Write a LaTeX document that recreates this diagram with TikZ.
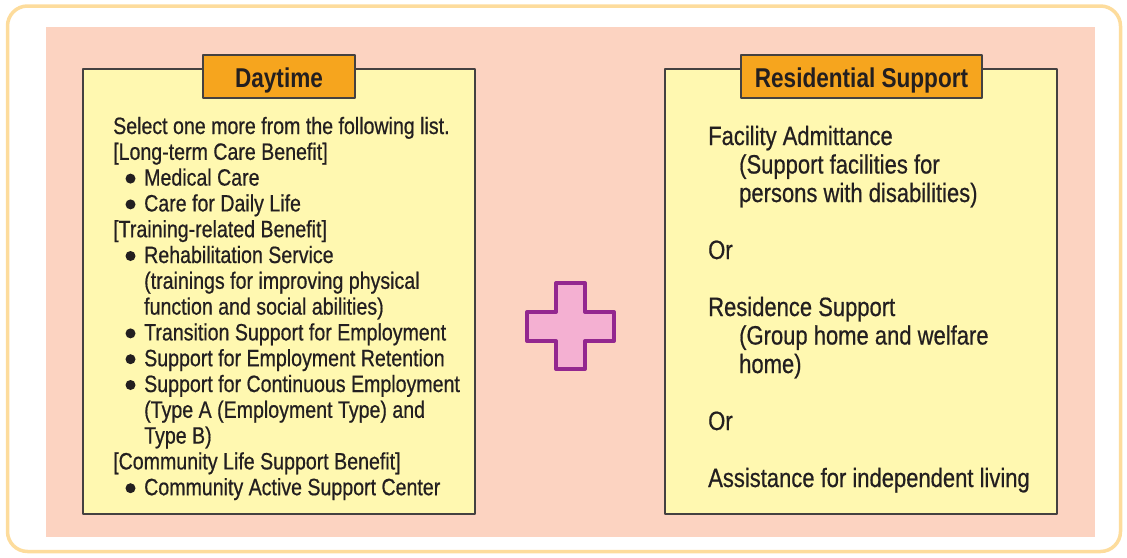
\documentclass[tikz,border=0pt]{standalone}
\usepackage{fontspec}
\setmainfont{Liberation Sans}[FakeStretch=0.83,UprightFeatures={FakeBold=0.6}]
\usetikzlibrary{calc}
\definecolor{frameorange}{HTML}{FDDC9C}
\definecolor{salmon}{HTML}{FCD3C1}
\definecolor{paleyellow}{HTML}{FFF8B0}
\definecolor{taborange}{HTML}{F6A51E}
\definecolor{inkgray}{HTML}{231F20}
\definecolor{plusfill}{HTML}{F4B0D2}
\definecolor{plusline}{HTML}{93278F}
\tikzset{panel/.style={draw=inkgray!85,line width=1.2pt,fill=paleyellow,minimum width=392pt,minimum height=445pt,inner sep=0}}
\tikzset{tab/.style={draw=inkgray!85,line width=1.2pt,fill=taborange,minimum height=43pt,inner sep=0,text height=21pt,text depth=0pt,text=inkgray,font=\bfseries\fontsize{27.2}{30}\selectfont}}
\tikzset{daytxt/.style={anchor=base west,inner sep=0,text=inkgray,font=\fontsize{23.6}{25.8}\selectfont}}
\tikzset{restxt/.style={anchor=base west,inner sep=0,text=inkgray,font=\fontsize{26.5}{28.5}\selectfont}}
\tikzset{dot/.style={circle,fill=inkgray,inner sep=0,minimum size=10pt}}

\begin{document}
\begin{tikzpicture}[x=1pt,y=-1pt,line join=round]
            \useasboundingbox (0,0) rectangle (1127,557);
            % frame and background
            \draw[frameorange,line width=3.5pt,rounded corners=20pt,fill=white](7.5,6) rectangle (1120.5,551.5);
            \fill[salmon](46,27) rectangle (1095,537);
            % the two panels
            \node[panel] (day) at (279,291.5) {};
            \node[tab,minimum width=152pt] (daytab) at (279,76.5) {Daytime};
            \node[panel] (res) at (861,291.5) {};
            \node[tab,minimum width=241pt] (restab) at (861.5,76.5) {Residential Support};
            % plus sign
            \filldraw[fill=plusfill,draw=plusline,line width=4pt](556,283)--(585,283)--(585,312)--(614,312)--(614,341)--(585,341)--(585,369)--(556,369)--(556,341)--(527,341)--(527,312)--(556,312)--cycle;
            % daytime list
            \foreach \lx/\txt [count=\n from 0] in {113/Select one more from the following list.,113/{[Long-term Care Benefit]},144/Medical Care,144/Care for Daily Life,113/{[Training-related Benefit]},144/Rehabilitation Service,144/(trainings for improving physical,144/function and social abilities),144/Transition Support for Employment,144/Support for Employment Retention,144/Support for Continuous Employment,144/(Type A (Employment Type) and,144/Type B),113/{[Community Life Support Benefit]},144/Community Active Support Center}
              \node[daytxt] (d\n) at (\lx,134+25.8*\n) {\txt};
            \foreach \n in {2,3,5,8,9,10,14}
              \node[dot] (b\n) at (130.5,127+25.8*\n) {};
            % residential list
            \foreach \lx/\n/\txt in {708/0/Facility Admittance,739/1/(Support facilities for,739/2/persons with disabilities),708/4/Or,708/6/Residence Support,739/7/(Group home and welfare,739/8/home),708/10/Or,708/12/Assistance for independent living}
              \node[restxt] (r\n) at (\lx,145+28.5*\n) {\txt};
          \end{tikzpicture}
\end{document}
